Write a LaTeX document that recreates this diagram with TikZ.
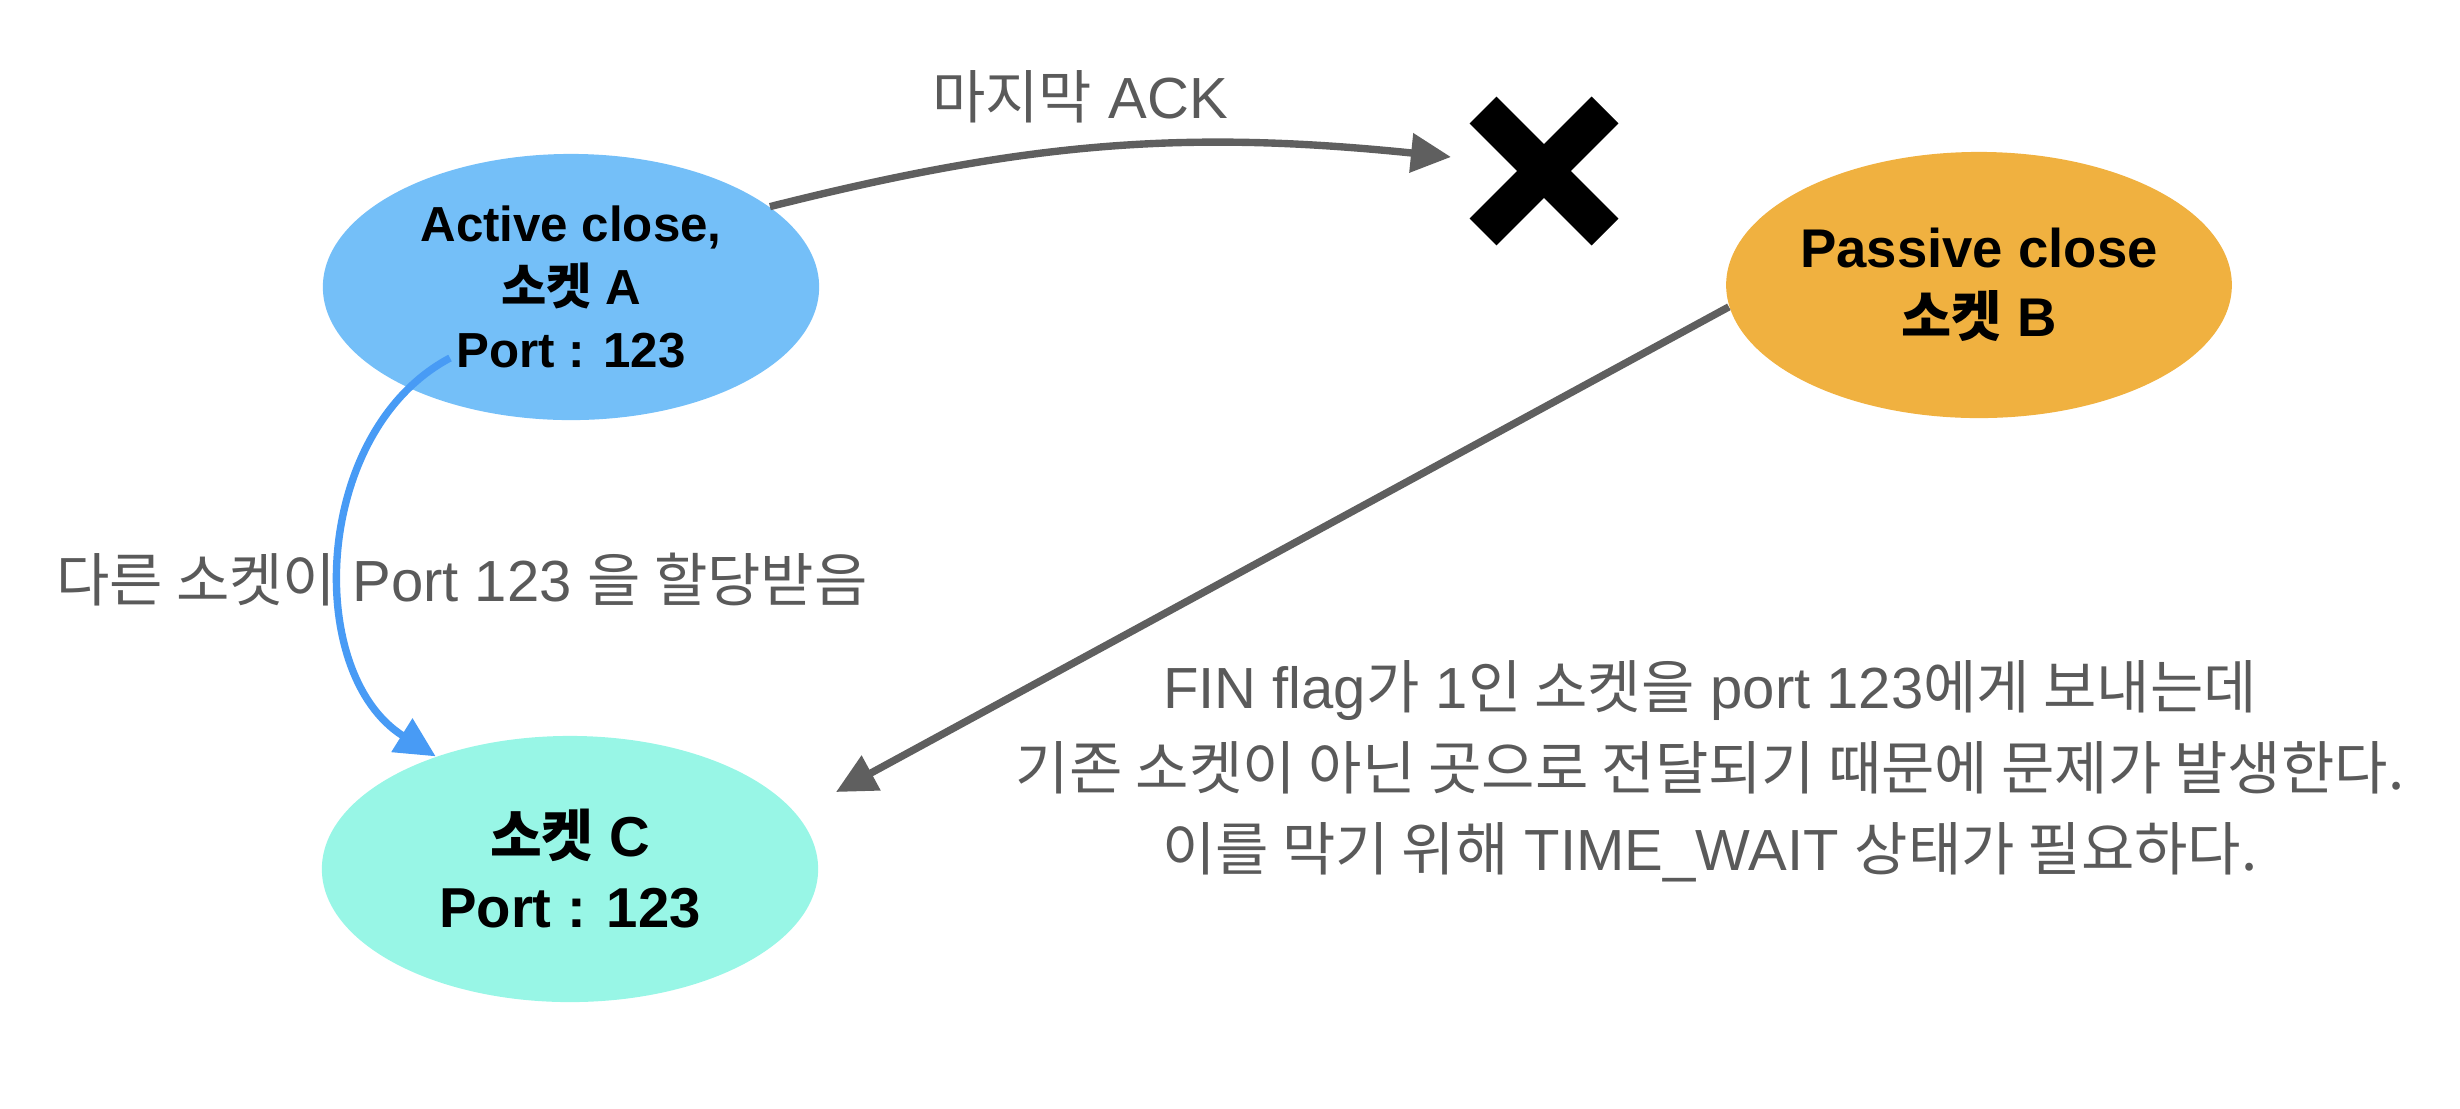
\documentclass[tikz,border=0pt]{standalone}
\usepackage{fontspec}
\setmainfont{Liberation Sans}
\newfontfamily\ko{Noto Sans CJK KR}
\usetikzlibrary{shapes.geometric,arrows.meta}

\definecolor{activeblue}{RGB}{116,191,248}
\definecolor{passiveorange}{RGB}{240,177,64}
\definecolor{newcyan}{RGB}{152,246,230}
\definecolor{notegray}{RGB}{90,90,90}
\definecolor{pencilgray}{RGB}{95,95,95}
\definecolor{pencilblue}{RGB}{72,155,245}

\tikzset{
  socket/.style={ellipse, minimum width=4.96cm, minimum height=2.66cm, align=center, inner sep=0pt},
  note/.style={text=notegray, align=center, font=\fontsize{16.5}{23}\selectfont},
  pencil/.style={line width=2.1pt, pencilgray, -{Triangle[length=0.4cm,width=0.38cm]}},
}

\begin{document}
\begin{tikzpicture}[x=0.01cm,y=-0.01cm]
    \useasboundingbox (0,0) rectangle (2460,1108);

    % Sockets
    \node[socket, fill=activeblue, font=\bfseries\fontsize{14}{18}\selectfont] (A) at (571,287) {Active close,\\{\ko 소켓} A\\Port : 123};
    \node[socket, fill=passiveorange, font=\bfseries\fontsize{15.5}{19.6}\selectfont] (B) at (1979,285) {Passive close\\{\ko 소켓} B};
    \node[socket, fill=newcyan, font=\bfseries\fontsize{16}{20.2}\selectfont] (C) at (570,869) {{\ko 소켓} C\\Port : 123};

    % Lost ACK
    \coordinate (ackend) at (1451,157);
    \draw[line width=0.38cm] (1483,110) -- (1605,232); % X
    \draw[line width=0.38cm] (1605,110) -- (1483,232);
    \draw[pencil] (A.22) to[bend left=10] (ackend);
    \node[note] (acklabel) at (1080,97) {{\ko 마지막} ACK};

    % Port reused
    \coordinate (reuse) at (450,358);
    \draw[pencil, pencilblue] (reuse) to[bend right=60] (C.140);
    \node[note] (reuselabel) at (462,580) {{\ko 다른 소켓이} Port 123 {\ko 을 할당받음}};

    % FIN goes to the wrong socket
    \coordinate (finend) at (836,792);
    \draw[pencil] (B.185) -- (finend);
    \node[note] (finlabel) at (1710,771) {FIN flag{\ko 가} 1{\ko 인 소켓을} port 123{\ko 에게 보내는데}\\
        {\ko 기존 소켓이 아닌 곳으로 전달되기 때문에 문제가 발생한다.}\\
        {\ko 이를 막기 위해} TIME\_WAIT {\ko 상태가 필요하다.}};
\end{tikzpicture}
\end{document}
